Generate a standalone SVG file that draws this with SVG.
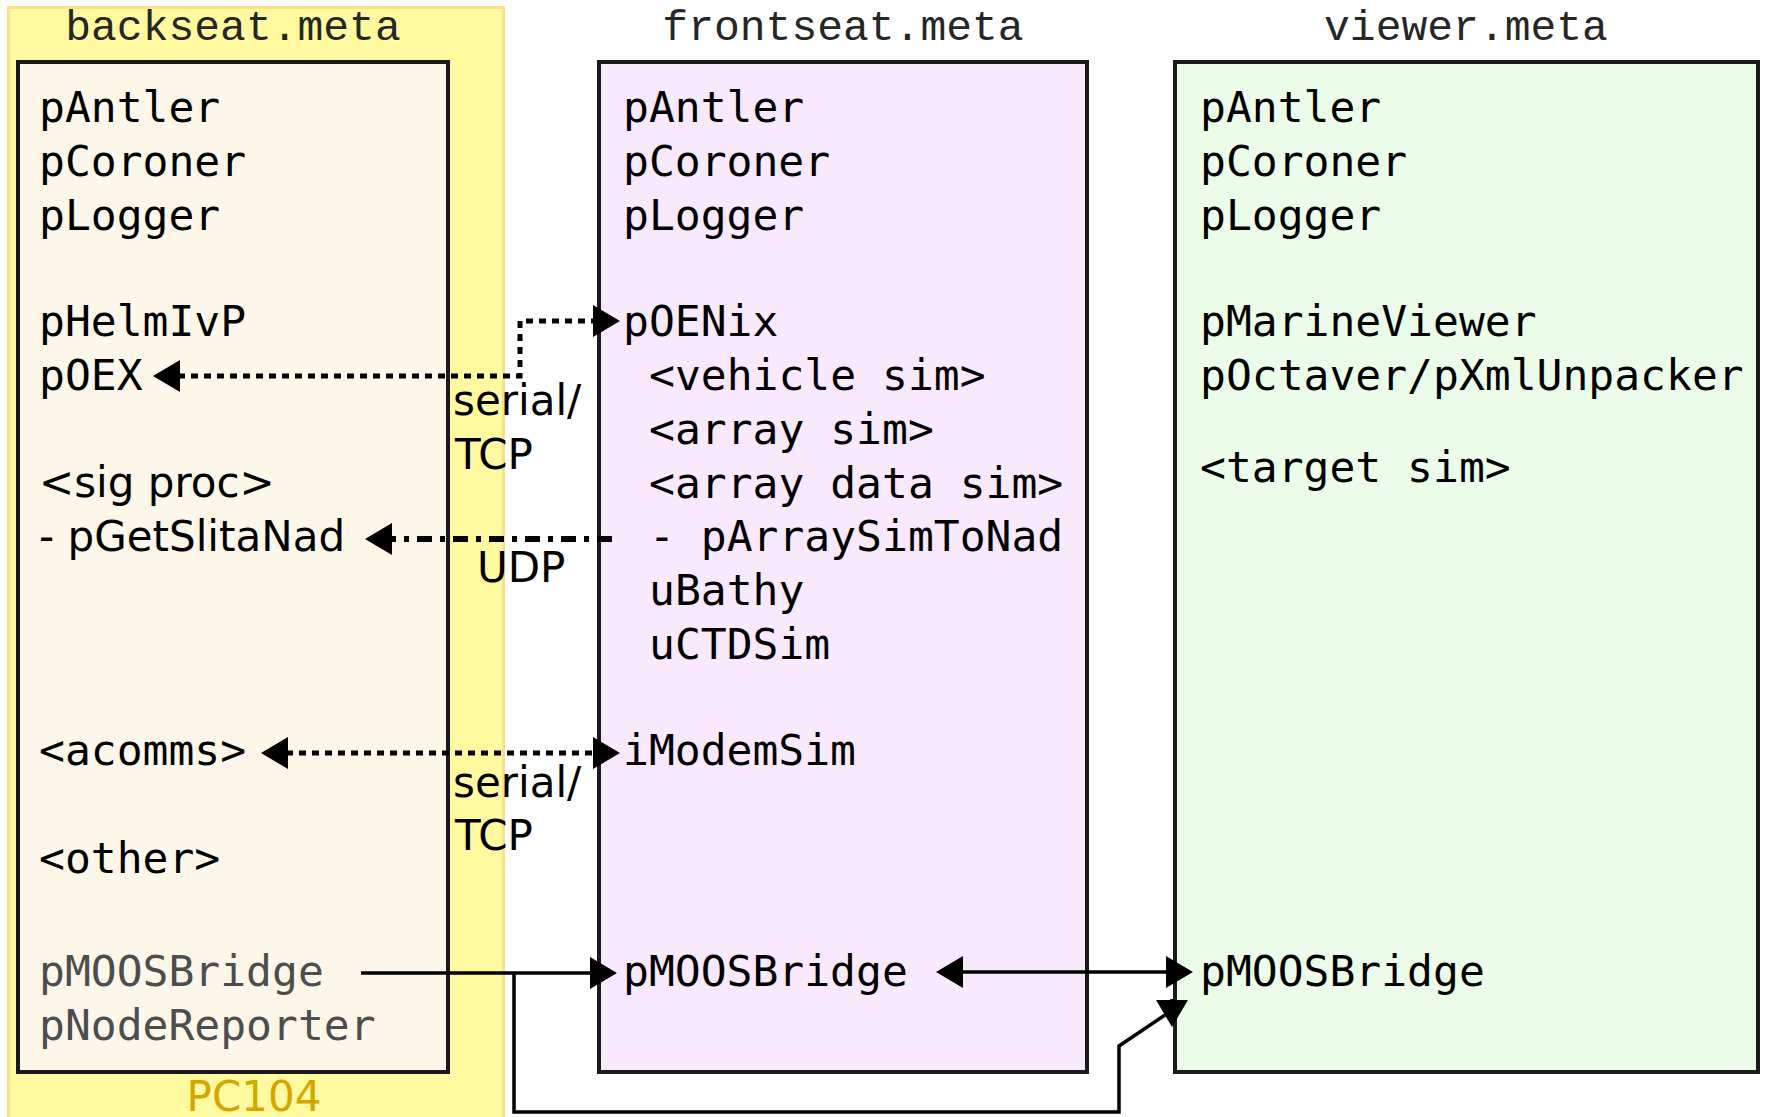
<svg xmlns="http://www.w3.org/2000/svg" width="1765" height="1117" viewBox="0 0 1765 1117">
  <defs>
    <style>
      .box { stroke: #1a1a1a; stroke-width: 4; }
      .title { font-family: "Liberation Mono", "DejaVu Sans Mono", monospace; font-size: 43px; fill: #262626; text-anchor: middle; }
      .mono { font-family: "DejaVu Sans Mono", "Liberation Mono", monospace; font-size: 43px; fill: #000; }
      .sans { font-family: "DejaVu Sans", "Liberation Sans", sans-serif; font-size: 42px; fill: #000; }
      .grey { fill: #4d4d4d; }
      .dotted { fill: none; stroke: #000; stroke-width: 5; stroke-dasharray: 7 6; }
      .dashdot { fill: none; stroke: #000; stroke-width: 6; stroke-dasharray: 15 8 5 8; }
      .solid { fill: none; stroke: #000; stroke-width: 3.5; }
    </style>
    <marker id="arrow" viewBox="0 0 27 32" refX="2" refY="16" markerWidth="27" markerHeight="32" markerUnits="userSpaceOnUse" orient="auto-start-reverse">
      <path d="M0,0 L27,16 L0,32 z" fill="#000"/>
    </marker>
  </defs>

  <rect width="1765" height="1117" fill="#ffffff"/>

  <!-- PC104 hardware enclosure -->
  <g id="pc104">
    <rect x="8.5" y="7.5" width="495" height="1125" fill="#fffaa0" stroke="#fbe08a" stroke-width="3"/>
    <text class="sans" x="254" y="1111" text-anchor="middle" style="fill:#d4a600">PC104</text>
  </g>

  <!-- backseat community -->
  <g id="backseat">
    <text class="title" x="233" y="40">backseat.meta</text>
    <rect class="box" x="18" y="62" width="430" height="1010" fill="#fdf7e9"/>
    <text class="mono" x="39" y="122">pAntler</text>
    <text class="mono" x="39" y="176">pCoroner</text>
    <text class="mono" x="39" y="230">pLogger</text>
    <text class="mono" x="39" y="336">pHelmIvP</text>
    <text class="mono" x="39" y="390">pOEX</text>
    <text class="sans" x="39" y="497">&lt;sig proc&gt;</text>
    <text class="sans" x="39" y="551">- pGetSlitaNad</text>
    <text class="mono" x="39" y="765">&lt;acomms&gt;</text>
    <text class="mono" x="39" y="873">&lt;other&gt;</text>
    <text class="mono grey" x="39" y="986">pMOOSBridge</text>
    <text class="mono grey" x="39" y="1040">pNodeReporter</text>
  </g>

  <!-- frontseat community -->
  <g id="frontseat">
    <text class="title" x="843" y="40">frontseat.meta</text>
    <rect class="box" x="599" y="62" width="488" height="1010" fill="#f8e9fc"/>
    <text class="mono" x="623" y="122">pAntler</text>
    <text class="mono" x="623" y="176">pCoroner</text>
    <text class="mono" x="623" y="230">pLogger</text>
    <text class="mono" x="623" y="336">pOENix</text>
    <text class="mono" x="649" y="390">&lt;vehicle sim&gt;</text>
    <text class="mono" x="649" y="444">&lt;array sim&gt;</text>
    <text class="mono" x="649" y="498">&lt;array data sim&gt;</text>
    <text class="mono" x="649" y="551">- pArraySimToNad</text>
    <text class="mono" x="649" y="605">uBathy</text>
    <text class="mono" x="649" y="659">uCTDSim</text>
    <text class="mono" x="623" y="765">iModemSim</text>
    <text class="mono" x="623" y="986">pMOOSBridge</text>
  </g>

  <!-- viewer community -->
  <g id="viewer">
    <text class="title" x="1466" y="40">viewer.meta</text>
    <rect class="box" x="1175" y="62" width="583" height="1010" fill="#ebfde9"/>
    <text class="mono" x="1200" y="122">pAntler</text>
    <text class="mono" x="1200" y="176">pCoroner</text>
    <text class="mono" x="1200" y="230">pLogger</text>
    <text class="mono" x="1200" y="336">pMarineViewer</text>
    <text class="mono" x="1200" y="390">pOctaver/pXmlUnpacker</text>
    <text class="mono" x="1200" y="482">&lt;target sim&gt;</text>
    <text class="mono" x="1200" y="986">pMOOSBridge</text>
  </g>

  <!-- links between processes -->
  <g id="connectors">
    <path class="dotted" d="M178,376 H520 V321 H595" marker-start="url(#arrow)" marker-end="url(#arrow)"/>
    <path class="dashdot" d="M612,539 H390" marker-end="url(#arrow)"/>
    <path class="dotted" d="M286,753 H595" marker-start="url(#arrow)" marker-end="url(#arrow)"/>
    <path class="solid" d="M361,973 H592" marker-end="url(#arrow)"/>
    <path class="solid" d="M514,973 V1112 H1119 V1046 L1168,1013 M1172,999 L1172,1002" marker-end="url(#arrow)"/>
    <path class="solid" d="M961,972 H1168" marker-start="url(#arrow)" marker-end="url(#arrow)"/>
    <text class="sans" x="453" y="415">serial/</text>
    <text class="sans" x="455" y="469">TCP</text>
    <text class="sans" x="477" y="582">UDP</text>
    <text class="sans" x="453" y="797">serial/</text>
    <text class="sans" x="455" y="850">TCP</text>
  </g>
</svg>
